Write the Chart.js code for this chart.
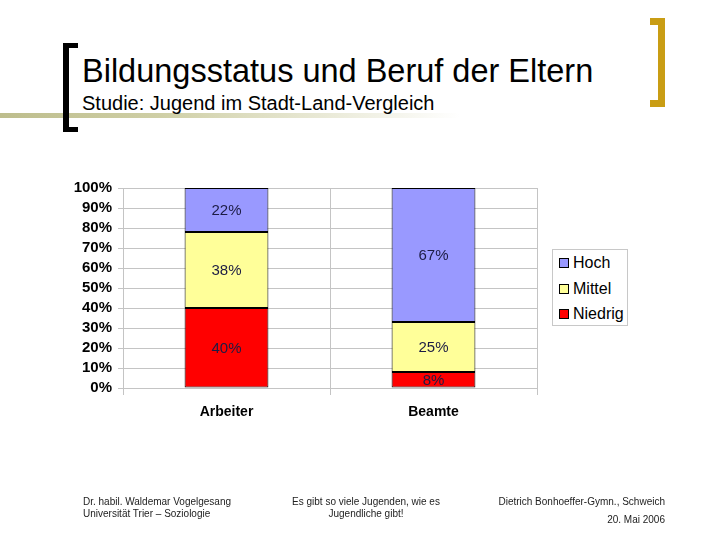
<!DOCTYPE html>
<html>
<head>
<meta charset="utf-8">
<script src="https://cdn.jsdelivr.net/npm/chart.js@4.4.1/dist/chart.umd.min.js"></script>
<style>
  html, body { margin: 0; padding: 0; background: #fff; }
  body { width: 720px; height: 540px; position: relative; overflow: hidden; font-family: 'Liberation Sans', Arial, sans-serif; }
  .abs { position: absolute; }
  #band { left: 0; top: 113px; width: 460px; height: 5px; background: linear-gradient(to right, #bdbd8c 0%, #cfcfa6 35%, rgba(255,255,255,0) 100%); }
  .bk { background: #000; }
  .gd { background: #c99d14; }
  #title { left: 82px; top: 53px; font-size: 32.5px; white-space: nowrap; color: #000; }
  #subtitle { left: 82px; top: 92px; font-size: 20px; white-space: nowrap; color: #000; }
  .foot { font-size: 10px; color: #222; white-space: nowrap; line-height: 12px; }
  #chart-wrap { left: 0; top: 0; width: 720px; height: 540px; }
  #legend { left: 552px; top: 249px; width: 76px; height: 77px; border: 1px solid #c8c8c8; box-sizing: border-box; background: #fff; }
  .leg-item { position: absolute; left: 6px; font-size: 16px; line-height: 18px; white-space: nowrap; }
  .leg-box { display: inline-block; width: 8px; height: 8px; border: 1px solid #000; margin-right: 4px; vertical-align: 0px; }
</style>
</head>
<body>
<div id="band" class="abs"></div>
<!-- black bracket -->
<div class="abs bk" style="left:63px;top:43px;width:6px;height:89px;"></div>
<div class="abs bk" style="left:63px;top:43px;width:15px;height:5px;"></div>
<div class="abs bk" style="left:63px;top:127px;width:15px;height:5px;"></div>
<!-- gold bracket -->
<div class="abs gd" style="left:658px;top:18px;width:7px;height:89px;"></div>
<div class="abs gd" style="left:650px;top:18px;width:15px;height:7px;"></div>
<div class="abs gd" style="left:650px;top:100px;width:15px;height:7px;"></div>

<div id="title" class="abs">Bildungsstatus und Beruf der Eltern</div>
<div id="subtitle" class="abs">Studie: Jugend im Stadt-Land-Vergleich</div>

<div id="chart-wrap" class="abs"><canvas id="chart" width="720" height="540"></canvas></div>
<div id="legend" class="abs"></div>

<div class="abs foot" style="left:83px;top:496px;">Dr. habil. Waldemar Vogelgesang<br>Universität Trier – Soziologie</div>
<div class="abs foot" style="left:266px;top:496px;width:200px;text-align:center;">Es gibt so viele Jugenden, wie es<br>Jugendliche gibt!</div>
<div class="abs foot" style="right:55px;top:496px;text-align:right;">Dietrich Bonhoeffer-Gymn., Schweich</div>
<div class="abs foot" style="right:55px;top:514px;text-align:right;">20. Mai 2006</div>

<script>
const categories = ['Arbeiter', 'Beamte'];
const niedrig = [40, 8];
const mittel = [38, 25];
const hoch = [22, 67];
const yTicks = [0, 10, 20, 30, 40, 50, 60, 70, 80, 90, 100];

const seriesNames = ['Niedrig', 'Mittel', 'Hoch'];
const seriesColors = ['#ff0000', '#ffff99', '#9999ff'];
const seriesValues = [niedrig, mittel, hoch];

const FONT = "'Liberation Sans', Arial, sans-serif";

// legend, top to bottom: Hoch, Mittel, Niedrig
const legend = document.querySelector('#legend');
[2, 1, 0].forEach((idx, row) => {
  const item = document.createElement('div');
  item.className = 'leg-item';
  item.style.top = 4 + row * 25.5 + 'px';
  item.innerHTML = `<span class="leg-box" style="background:${seriesColors[idx]}"></span>${seriesNames[idx]}`;
  legend.appendChild(item);
});

const barLabels = {
  id: 'barLabels',
  afterDatasetsDraw(chart) {
    const ctx = chart.ctx;
    ctx.save();
    ctx.font = `15px ${FONT}`;
    ctx.fillStyle = '#1c1c44';
    ctx.textAlign = 'center';
    ctx.textBaseline = 'middle';
    chart.data.datasets.forEach((ds, i) => {
      chart.getDatasetMeta(i).data.forEach((bar, j) => {
        const mid = (bar.y + bar.base) / 2;
        ctx.fillText(ds.data[j] + '%', bar.x, mid + 1);
      });
    });
    ctx.restore();
  },
};

const ctx = document.querySelector('#chart').getContext('2d');
new Chart(ctx, {
  type: 'bar',
  data: {
    labels: categories,
    datasets: seriesValues.map((vals, i) => ({
      label: seriesNames[i],
      data: vals,
      backgroundColor: seriesColors[i],
      borderColor: '#000000',
      borderWidth: 1,
      borderSkipped: false,
      categoryPercentage: 1,
      barPercentage: 0.405,
    })),
  },
  options: {
    responsive: false,
    animation: false,
    maintainAspectRatio: false,
    layout: { padding: { left: 60, right: 183, top: 188, bottom: 100 } },
    plugins: { legend: { display: false }, tooltip: { enabled: false } },
    scales: {
      x: {
        stacked: true,
        offset: true,
        afterFit: (scale) => { scale.height = 52; },
        grid: { offset: true, color: '#c4c4c4', tickLength: 7, drawOnChartArea: true },
        border: { display: false },
        ticks: { color: '#000', padding: 9, font: { family: FONT, size: 14, weight: 'bold' } },
      },
      y: {
        stacked: true,
        min: 0,
        max: 100,
        afterFit: (scale) => { scale.width = 63; },
        afterBuildTicks: (scale) => { scale.ticks = yTicks.map((v) => ({ value: v })); },
        grid: { color: '#c4c4c4', tickLength: 5 },
        border: { color: '#c4c4c4' },
        ticks: {
          color: '#000',
          padding: 6,
          autoSkip: false,
          stepSize: 10,
          font: { family: FONT, size: 15, weight: 'bold' },
          callback: (v) => v + '%',
        },
      },
    },
  },
  plugins: [barLabels],
});
</script>
</body>
</html>
